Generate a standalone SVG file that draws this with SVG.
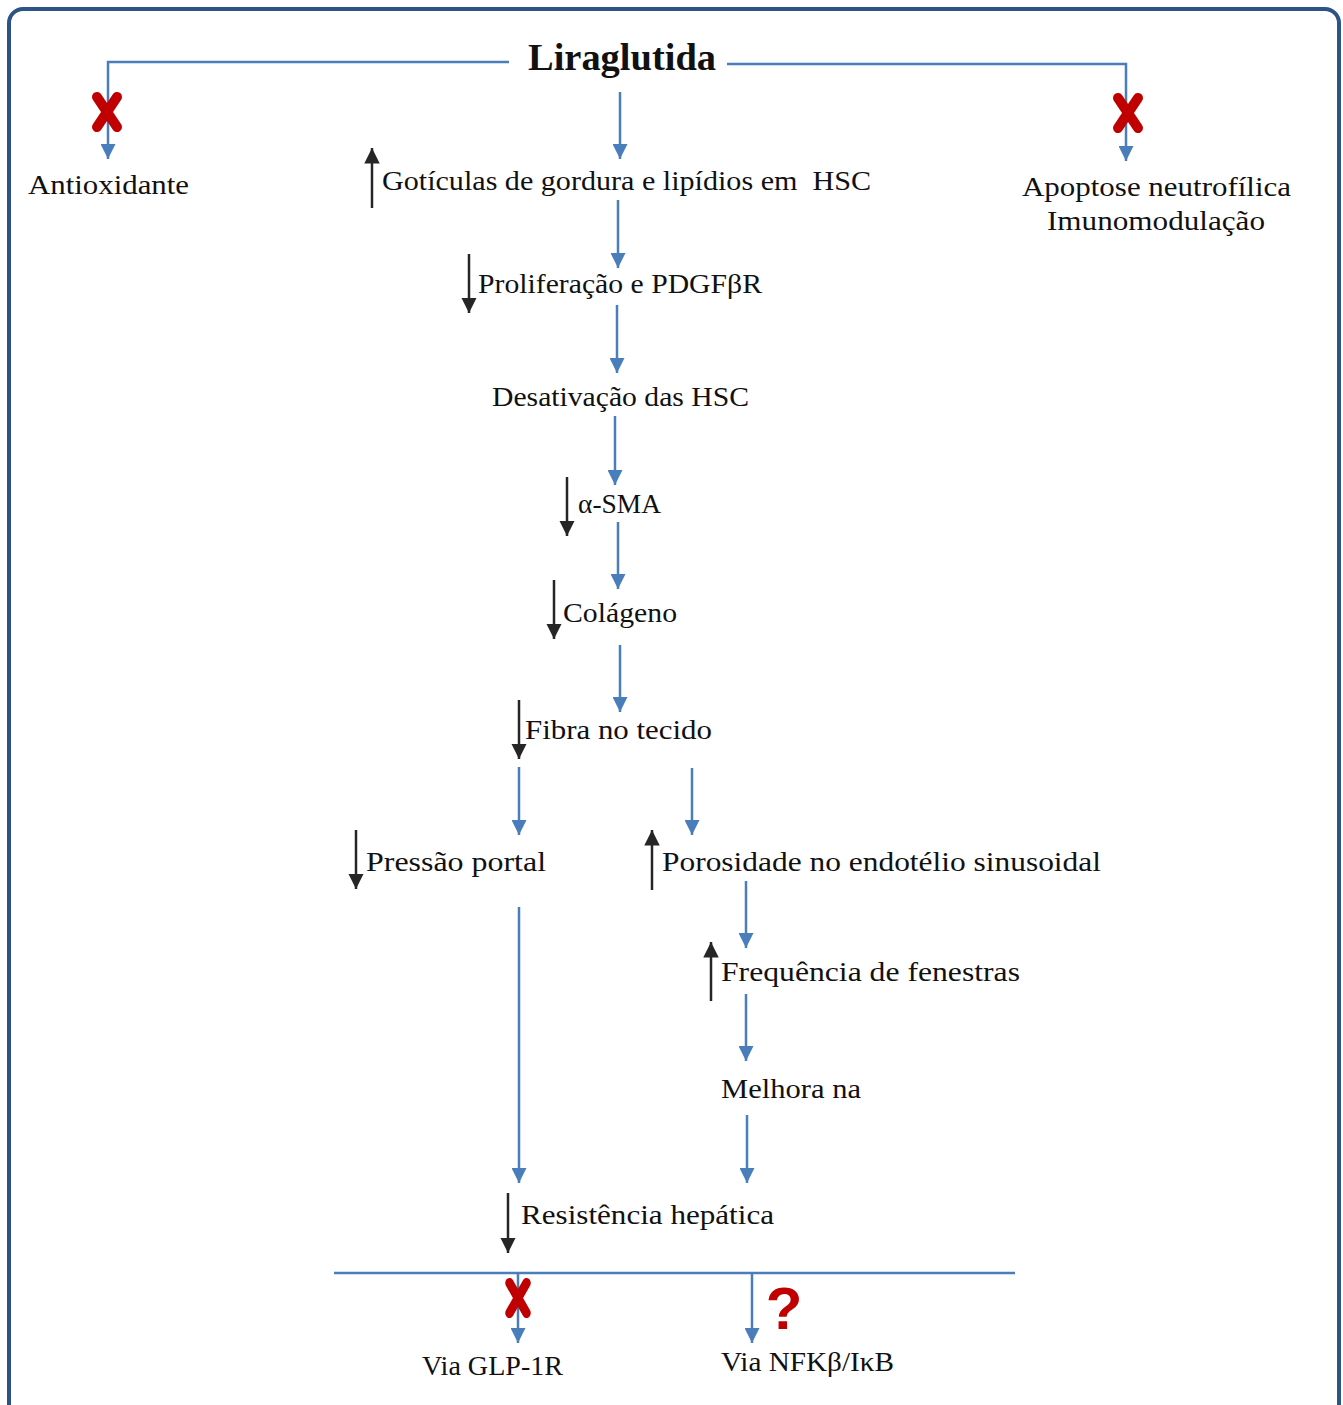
<svg xmlns="http://www.w3.org/2000/svg" width="1343" height="1405" viewBox="0 0 1343 1405">
<defs>
<marker id="ab" viewBox="0 0 10 10" refX="10" refY="5" markerWidth="6" markerHeight="6" markerUnits="strokeWidth" orient="auto">
<path d="M0,0 L10,5 L0,10 Z" fill="#4a7ebb"/>
</marker>
<marker id="ak" viewBox="0 0 10 10" refX="10" refY="5" markerWidth="6.2" markerHeight="6.2" markerUnits="strokeWidth" orient="auto">
<path d="M0,0 L10,5 L0,10 Z" fill="#262626"/>
</marker>
<path id="xmark" d="M-10,-15 L10,15 M10,-15 L-10,15" />
</defs>
<style>
.t{font-family:"Liberation Serif",serif;font-size:28px;fill:#111;}
.b{stroke:#4a7ebb;stroke-width:2.5;fill:none;}
.ba{stroke:#4a7ebb;stroke-width:2.5;fill:none;marker-end:url(#ab);}
.k{stroke:#262626;stroke-width:2.5;fill:none;marker-end:url(#ak);}
.x{stroke:#c00000;stroke-width:10;stroke-linecap:round;fill:none;}
</style>
<rect x="9" y="9" width="1330" height="1420" rx="14" fill="#fff" stroke="#2c5487" stroke-width="4"/>

<g id="connectors">
<polyline class="ba" points="509,62 108,62 108,159"/>
<polyline class="ba" points="727,64 1126,64 1126,161"/>
<line class="ba" x1="620" y1="92" x2="620" y2="159"/>
<line class="ba" x1="618" y1="200" x2="618" y2="268"/>
<line class="ba" x1="617" y1="305" x2="617" y2="373"/>
<line class="ba" x1="615" y1="416" x2="615" y2="485"/>
<line class="ba" x1="618" y1="522" x2="618" y2="589"/>
<line class="ba" x1="620" y1="645" x2="620" y2="712"/>
<line class="ba" x1="519" y1="767" x2="519" y2="835"/>
<line class="ba" x1="692" y1="768" x2="692" y2="835"/>
<line class="ba" x1="519" y1="907" x2="519" y2="1183"/>
<line class="ba" x1="746" y1="881" x2="746" y2="948"/>
<line class="ba" x1="746" y1="994" x2="746" y2="1061"/>
<line class="ba" x1="747" y1="1115" x2="747" y2="1183"/>
<line class="b" x1="334" y1="1273" x2="1015" y2="1273"/>
<line class="ba" x1="518" y1="1273" x2="518" y2="1343"/>
<line class="ba" x1="752" y1="1273" x2="752" y2="1343"/>
</g>

<g id="indicators">
<line class="k" x1="372" y1="208" x2="372" y2="148"/>
<line class="k" x1="469" y1="254" x2="469" y2="313"/>
<line class="k" x1="567" y1="477" x2="567" y2="536"/>
<line class="k" x1="554" y1="580" x2="554" y2="639"/>
<line class="k" x1="519" y1="700" x2="519" y2="759"/>
<line class="k" x1="356" y1="830" x2="356" y2="889"/>
<line class="k" x1="652" y1="890" x2="652" y2="830"/>
<line class="k" x1="711" y1="1001" x2="711" y2="942"/>
<line class="k" x1="508" y1="1193" x2="508" y2="1253"/>
</g>

<g id="marks">
<use href="#xmark" class="x" transform="translate(107,112)"/>
<use href="#xmark" class="x" transform="translate(1128,113)"/>
<use href="#xmark" class="x" transform="translate(518,1298) scale(0.85,1)"/>
<text x="784" y="1329" text-anchor="middle" font-family="Liberation Sans,Arial,sans-serif" font-weight="bold" font-size="60" fill="#c00000">?</text>
</g>

<g id="n-liraglutida"><text x="622" y="70" text-anchor="middle" font-family="Liberation Serif,serif" font-weight="bold" font-size="37" fill="#111" textLength="188" lengthAdjust="spacingAndGlyphs">Liraglutida</text></g>
<g id="n-antioxidante"><text class="t" x="28" y="194" textLength="161" lengthAdjust="spacingAndGlyphs">Antioxidante</text></g>
<g id="n-apoptose">
<text class="t" x="1022" y="196" textLength="269" lengthAdjust="spacingAndGlyphs">Apoptose neutrofílica</text>
<text class="t" x="1047" y="230" textLength="218" lengthAdjust="spacingAndGlyphs">Imunomodulação</text>
</g>
<g id="n-goticulas"><text class="t" x="382" y="190" textLength="489" lengthAdjust="spacingAndGlyphs" xml:space="preserve">Gotículas de gordura e lipídios em  HSC</text></g>
<g id="n-proliferacao"><text class="t" x="478" y="293" textLength="284" lengthAdjust="spacingAndGlyphs">Proliferação e PDGFβR</text></g>
<g id="n-desativacao"><text class="t" x="492" y="406" textLength="257" lengthAdjust="spacingAndGlyphs">Desativação das HSC</text></g>
<g id="n-asma"><text class="t" x="578" y="513" textLength="83" lengthAdjust="spacingAndGlyphs">α-SMA</text></g>
<g id="n-colageno"><text class="t" x="563" y="622" textLength="114" lengthAdjust="spacingAndGlyphs">Colágeno</text></g>
<g id="n-fibra"><text class="t" x="525" y="739" textLength="187" lengthAdjust="spacingAndGlyphs">Fibra no tecido</text></g>
<g id="n-pressao"><text class="t" x="366" y="871" textLength="180" lengthAdjust="spacingAndGlyphs">Pressão portal</text></g>
<g id="n-porosidade"><text class="t" x="662" y="871" textLength="439" lengthAdjust="spacingAndGlyphs">Porosidade no endotélio sinusoidal</text></g>
<g id="n-frequencia"><text class="t" x="721" y="981" textLength="299" lengthAdjust="spacingAndGlyphs">Frequência de fenestras</text></g>
<g id="n-melhora"><text class="t" x="721" y="1098" textLength="140" lengthAdjust="spacingAndGlyphs">Melhora na</text></g>
<g id="n-resistencia"><text class="t" x="521" y="1224" textLength="253" lengthAdjust="spacingAndGlyphs">Resistência hepática</text></g>
<g id="n-glp1r"><text class="t" x="422" y="1375" textLength="141" lengthAdjust="spacingAndGlyphs">Via GLP-1R</text></g>
<g id="n-nfkb"><text class="t" x="721" y="1371" textLength="173" lengthAdjust="spacingAndGlyphs">Via NFKβ/IκB</text></g>
</svg>
